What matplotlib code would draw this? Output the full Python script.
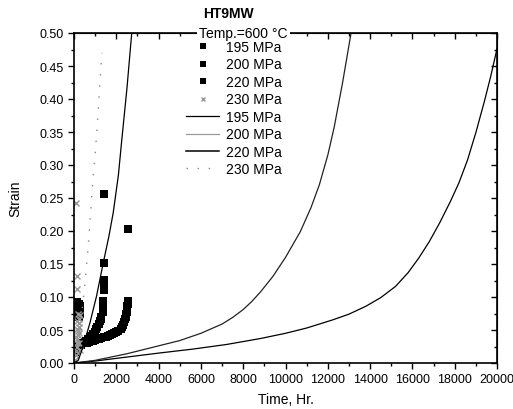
import matplotlib
matplotlib.use("Agg")
import matplotlib.pyplot as plt
from matplotlib.lines import Line2D
from matplotlib.ticker import MultipleLocator, FormatStrFormatter

plt.rcParams['font.family'] = ['Liberation Sans', 'DejaVu Sans']

# creep data, time (hr) vs strain
t_195 = [60, 60, 60, 60, 60, 60, 140, 140, 140, 140, 140, 140, 220, 220, 220, 220, 220, 300, 300, 300]
s_195 = [0.070, 0.074, 0.078, 0.082, 0.086, 0.090, 0.072, 0.076, 0.080, 0.084, 0.088, 0.092,
         0.070, 0.075, 0.080, 0.085, 0.090, 0.074, 0.080, 0.086]

t_200 = [500, 600, 700, 800, 900, 1000, 1100, 1200, 1300, 1400, 1500, 1600, 1700, 1800, 1900,
         2000, 2100, 2200, 2260, 2320, 2380, 2420, 2450, 2480, 2500, 2515, 2525, 2535, 2545, 2560]
s_200 = [0.030, 0.031, 0.032, 0.033, 0.034, 0.035, 0.036, 0.037, 0.038, 0.039, 0.040, 0.041,
         0.042, 0.044, 0.045, 0.047, 0.049, 0.052, 0.055, 0.058, 0.062, 0.066, 0.070, 0.074,
         0.078, 0.082, 0.086, 0.090, 0.094, 0.203]

t_220 = [40, 80, 130, 190, 260, 340, 420, 500, 580, 660, 740, 820, 900, 980, 1050, 1110, 1170,
         1220, 1260, 1300, 1390, 1390, 1390, 1390, 1390, 1400, 1400, 1400, 1410, 1420]
s_220 = [0.016, 0.019, 0.022, 0.024, 0.026, 0.028, 0.030, 0.032, 0.034, 0.036, 0.039, 0.041,
         0.044, 0.047, 0.051, 0.055, 0.059, 0.063, 0.067, 0.070, 0.078, 0.082, 0.086, 0.090,
         0.094, 0.110, 0.116, 0.126, 0.152, 0.256]

t_230 = [60, 80, 100, 120, 140, 160, 180, 200, 220, 240, 260, 280, 100, 160, 220, 280, 120,
         200, 260, 130, 130, 110]
s_230 = [0.005, 0.012, 0.018, 0.024, 0.030, 0.036, 0.042, 0.048, 0.054, 0.060, 0.066, 0.072,
         0.040, 0.052, 0.030, 0.020, 0.064, 0.075, 0.045, 0.112, 0.132, 0.243]

# fitted curves
ft_195 = [0, 1000, 2500, 4000, 5600, 7200, 8800, 10000, 11000, 12200, 13000, 13800, 14500,
          15200, 15800, 16300, 16800, 17300, 17800, 18200, 18600, 19000, 19400, 19700, 20000]
fs_195 = [0, 0.003, 0.009, 0.015, 0.021, 0.028, 0.037, 0.045, 0.053, 0.065, 0.074, 0.086,
          0.099, 0.116, 0.137, 0.159, 0.184, 0.213, 0.245, 0.273, 0.307, 0.349, 0.396, 0.434, 0.476]

ft_200 = [0, 1000, 2500, 4000, 5000, 6000, 7000, 7500, 8000, 8400, 8800, 9400, 10000, 10700,
          11200, 11600, 12000, 12300, 12700, 13100]
fs_200 = [0, 0.004, 0.014, 0.026, 0.034, 0.045, 0.059, 0.069, 0.081, 0.093, 0.107, 0.131,
          0.160, 0.199, 0.235, 0.270, 0.315, 0.357, 0.425, 0.500]

ft_220 = [0, 200, 440, 755, 1070, 1385, 1650, 1856, 2100, 2250, 2500, 2730]
fs_220 = [0, 0.004, 0.026, 0.061, 0.102, 0.152, 0.192, 0.228, 0.285, 0.335, 0.415, 0.500]

ft_230 = [0, 250, 520, 680, 800, 900, 1000, 1100, 1200, 1300, 1330]
fs_230 = [0, 0.040, 0.120, 0.180, 0.235, 0.280, 0.315, 0.360, 0.410, 0.460, 0.470]

fig = plt.figure(figsize=(5.13, 4.10), dpi=100)
ax = fig.add_axes([74/513, 1 - 364/410, (497 - 74)/513, (364 - 34)/410])

ax.plot(t_195, s_195, 's', color='k', ms=6, mew=0)
ax.plot(t_200, s_200, 's', color='k', ms=6, mew=0)
ax.plot(t_220, s_220, 's', color='k', ms=6, mew=0)
ax.plot(t_230, s_230, 'x', color='#999999', ms=4, mew=1)

ax.plot(ft_195, fs_195, '-', color='k', lw=0.9)
ax.plot(ft_200, fs_200, '-', color='#222222', lw=0.9)
ax.plot(ft_220, fs_220, '-', color='k', lw=0.9)
ax.plot(ft_230, fs_230, color='#888888', lw=1.0, ls=(0, (1, 7)))

ax.set_xlim(0, 20000)
ax.set_ylim(0, 0.5)
ax.xaxis.set_major_locator(MultipleLocator(2000))
ax.xaxis.set_minor_locator(MultipleLocator(1000))
ax.yaxis.set_major_locator(MultipleLocator(0.05))
ax.yaxis.set_minor_locator(MultipleLocator(0.025))
ax.yaxis.set_major_formatter(FormatStrFormatter('%.2f'))
ax.tick_params(which='major', direction='out', length=4, width=1, labelsize=9)
ax.tick_params(which='minor', direction='out', length=2.5, width=1)
for sp in ax.spines.values():
    sp.set_linewidth(1.2)

secx = ax.secondary_xaxis('top')
secx.xaxis.set_major_locator(MultipleLocator(2000))
secx.xaxis.set_minor_locator(MultipleLocator(1000))
secx.tick_params(which='both', direction='in', labeltop=False)
secx.tick_params(which='major', length=4, width=1)
secx.tick_params(which='minor', length=2.5, width=1)
secy = ax.secondary_yaxis('right')
secy.yaxis.set_major_locator(MultipleLocator(0.05))
secy.yaxis.set_minor_locator(MultipleLocator(0.025))
secy.tick_params(which='both', direction='in', labelright=False)
secy.tick_params(which='major', length=4, width=1)
secy.tick_params(which='minor', length=2.5, width=1)

ax.set_xlabel('Time, Hr.', fontsize=10, labelpad=5)
ax.set_ylabel('Strain', fontsize=10, labelpad=12)

fig.text(228/513, 1 - 14/410, 'HT9MW', fontsize=10, fontweight='bold', ha='center', va='center')
ax.text(0.40, 1.0, 'Temp.=600 °C', transform=ax.transAxes, fontsize=10, ha='center', va='center',
        bbox=dict(facecolor='white', edgecolor='none', pad=1.5), zorder=5)

handles = [
    Line2D([], [], marker='s', ls='none', color='k', ms=4, mew=0),
    Line2D([], [], marker='s', ls='none', color='k', ms=4, mew=0),
    Line2D([], [], marker='s', ls='none', color='k', ms=4, mew=0),
    Line2D([], [], marker='x', ls='none', color='#999999', ms=3, mew=1),
    Line2D([], [], ls='-', color='k', lw=0.9),
    Line2D([], [], ls='-', color='#999999', lw=0.9),
    Line2D([], [], ls='-', color='k', lw=1.1),
    Line2D([], [], color='#888888', lw=1.0, ls=(0, (1, 7))),
]
labels = ['195 MPa', '200 MPa', '220 MPa', '230 MPa', '195 MPa', '200 MPa', '220 MPa', '230 MPa']
ax.legend(handles, labels, loc='upper left', bbox_to_anchor=(186/513, 1 - 41/410),
          bbox_transform=fig.transFigure, frameon=False, fontsize=10, handlelength=2.4,
          handletextpad=0.5, labelspacing=0.25, borderpad=0, borderaxespad=0)

fig.savefig('out.png', dpi=100)
